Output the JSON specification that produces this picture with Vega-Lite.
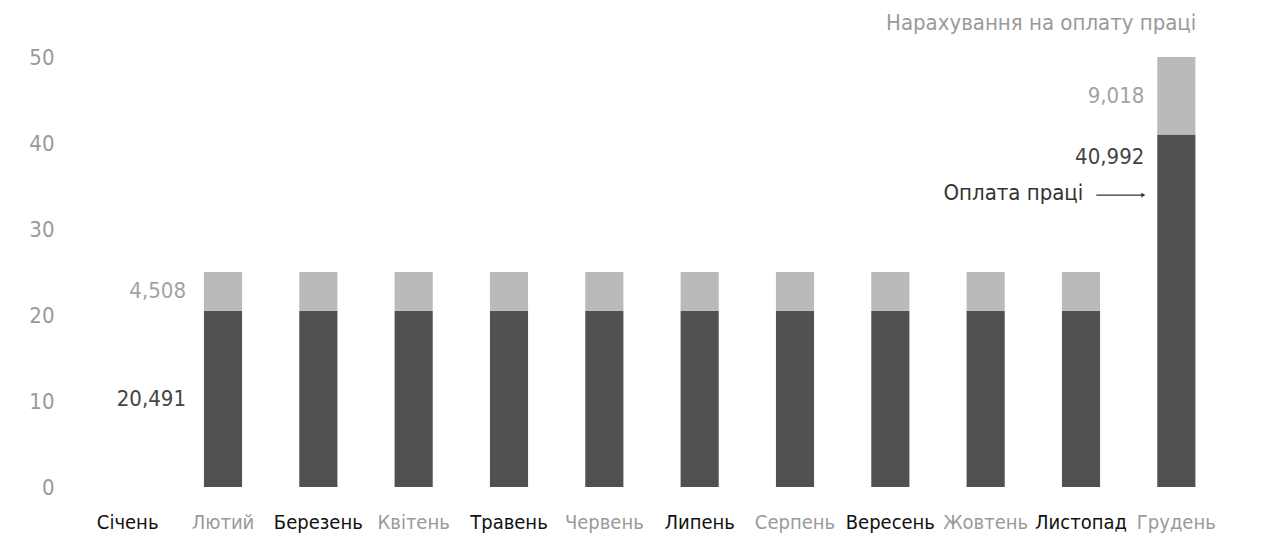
{
  "$schema": "https://vega.github.io/schema/vega-lite/v6.json",
  "width": 1144,
  "height": 430,
  "autosize": {"type": "none"},
  "padding": {"left": 80, "top": 57, "right": 38, "bottom": 51},
  "background": "white",
  "config": {
    "view": {"stroke": null},
    "font": "DejaVu Sans Condensed, sans-serif",
    "axis": {"labelFont": "DejaVu Sans Condensed, sans-serif"}
  },
  "datasets": {
    "bars": [
      {"month": "Лютий", "part": "Оплата праці", "value": 20.491},
      {"month": "Лютий", "part": "Нарахування", "value": 4.508},
      {"month": "Березень", "part": "Оплата праці", "value": 20.491},
      {"month": "Березень", "part": "Нарахування", "value": 4.508},
      {"month": "Квітень", "part": "Оплата праці", "value": 20.491},
      {"month": "Квітень", "part": "Нарахування", "value": 4.508},
      {"month": "Травень", "part": "Оплата праці", "value": 20.491},
      {"month": "Травень", "part": "Нарахування", "value": 4.508},
      {"month": "Червень", "part": "Оплата праці", "value": 20.491},
      {"month": "Червень", "part": "Нарахування", "value": 4.508},
      {"month": "Липень", "part": "Оплата праці", "value": 20.491},
      {"month": "Липень", "part": "Нарахування", "value": 4.508},
      {"month": "Серпень", "part": "Оплата праці", "value": 20.491},
      {"month": "Серпень", "part": "Нарахування", "value": 4.508},
      {"month": "Вересень", "part": "Оплата праці", "value": 20.491},
      {"month": "Вересень", "part": "Нарахування", "value": 4.508},
      {"month": "Жовтень", "part": "Оплата праці", "value": 20.491},
      {"month": "Жовтень", "part": "Нарахування", "value": 4.508},
      {"month": "Листопад", "part": "Оплата праці", "value": 20.491},
      {"month": "Листопад", "part": "Нарахування", "value": 4.508},
      {"month": "Грудень", "part": "Оплата праці", "value": 40.992},
      {"month": "Грудень", "part": "Нарахування", "value": 9.018}
    ],
    "notes": [
      {"month": "Лютий", "part": "Оплата праці", "at": 10.25, "text": "20,491"},
      {"month": "Лютий", "part": "Нарахування", "at": 22.75, "text": "4,508"},
      {"month": "Грудень", "part": "Оплата праці", "at": 38.4, "text": "40,992"},
      {"month": "Грудень", "part": "Нарахування", "at": 45.5, "text": "9,018"}
    ],
    "pointer": [
      {"month": "Грудень", "at": 34.2, "text": "Оплата праці", "line": 33.95}
    ],
    "heading": [
      {"month": "Грудень", "at": 53.95, "text": "Нарахування на оплату праці"}
    ]
  },
  "encoding": {
    "x": {
      "field": "month",
      "type": "nominal",
      "sort": null,
      "scale": {
        "domain": ["Січень", "Лютий", "Березень", "Квітень", "Травень", "Червень", "Липень", "Серпень", "Вересень", "Жовтень", "Листопад", "Грудень"],
        "paddingInner": 0.6,
        "paddingOuter": 0.3
      },
      "axis": {
        "title": null,
        "domain": false,
        "ticks": false,
        "labelAngle": 0,
        "labelFontSize": 20,
        "labelPadding": 25,
        "labelColor": {"expr": "indexof(['Лютий','Квітень','Червень','Серпень','Жовтень','Грудень'], datum.value) >= 0 ? '#9a9a9a' : '#111111'"}
      }
    }
  },
  "layer": [
    {
      "data": {"name": "bars"},
      "mark": {"type": "bar"},
      "encoding": {
        "y": {
          "field": "value",
          "type": "quantitative",
          "stack": "zero",
          "scale": {"domain": [0, 50], "nice": false},
          "axis": {
            "title": null,
            "domain": false,
            "ticks": false,
            "grid": false,
            "values": [0, 10, 20, 30, 40, 50],
            "labelFontSize": 22,
            "labelColor": "#9a9a9a",
            "labelPadding": 26
          }
        },
        "color": {
          "field": "part",
          "type": "nominal",
          "scale": {"domain": ["Оплата праці", "Нарахування"], "range": ["#515153", "#bababa"]},
          "legend": null
        },
        "order": {"field": "part", "sort": "descending"}
      }
    },
    {
      "data": {"name": "notes"},
      "transform": [{"filter": "datum.month === 'Лютий'"}],
      "mark": {"type": "text", "align": "right", "baseline": "middle", "fontSize": 22, "dx": -37},
      "encoding": {
        "y": {"field": "at", "type": "quantitative"},
        "text": {"field": "text"},
        "color": {
          "field": "part",
          "type": "nominal",
          "scale": {"domain": ["Оплата праці", "Нарахування"], "range": ["#444444", "#a3a3a3"]},
          "legend": null
        }
      }
    },
    {
      "data": {"name": "notes"},
      "transform": [{"filter": "datum.month === 'Грудень'"}],
      "mark": {"type": "text", "align": "right", "baseline": "middle", "fontSize": 22, "dx": -32},
      "encoding": {
        "y": {"field": "at", "type": "quantitative"},
        "text": {"field": "text"},
        "color": {
          "field": "part",
          "type": "nominal",
          "scale": {"domain": ["Оплата праці", "Нарахування"], "range": ["#444444", "#a3a3a3"]},
          "legend": null
        }
      }
    },
    {
      "data": {"name": "pointer"},
      "mark": {"type": "text", "align": "right", "baseline": "middle", "fontSize": 22, "dx": -93, "color": "#333333"},
      "encoding": {
        "y": {"field": "at", "type": "quantitative"},
        "text": {"field": "text"}
      }
    },
    {
      "data": {"name": "pointer"},
      "mark": {"type": "rule", "color": "#333333", "strokeWidth": 1.2, "xOffset": -80, "x2Offset": -33},
      "encoding": {
        "x2": {"field": "month"},
        "y": {"field": "line", "type": "quantitative"}
      }
    },
    {
      "data": {"name": "pointer"},
      "mark": {"type": "point", "shape": "triangle-right", "filled": true, "size": 22, "color": "#333333", "opacity": 1, "xOffset": -33},
      "encoding": {
        "y": {"field": "line", "type": "quantitative"}
      }
    },
    {
      "data": {"name": "heading"},
      "mark": {"type": "text", "align": "right", "baseline": "middle", "fontSize": 22, "dx": 20, "color": "#9a9a9a"},
      "encoding": {
        "y": {"field": "at", "type": "quantitative"},
        "text": {"field": "text"}
      }
    }
  ],
  "resolve": {"scale": {"color": "independent"}}
}
